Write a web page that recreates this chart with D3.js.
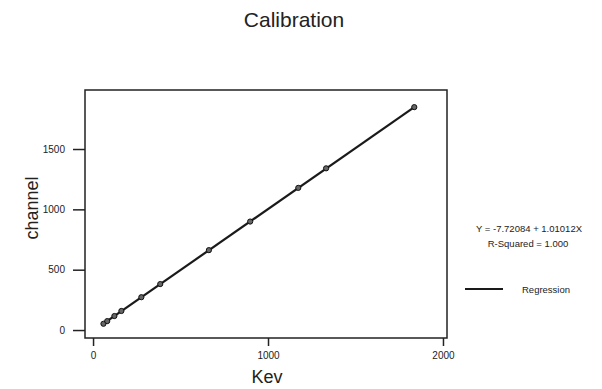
<!DOCTYPE html>
<html lang="en">
<head>
  <meta charset="UTF-8" />
  <title>Calibration</title>
  <style>
  body {
    margin: 0;
    background: #fff;
    font-family: "Liberation Sans", Arial, sans-serif;
  }
  svg {
    display: block;
  }
  .axis text {
    font-size: 10px;
    fill: #222;
  }
  .axis line {
    stroke: #222;
    stroke-width: 1.5;
  }
  </style>
  <script src="https://d3js.org/d3.v7.min.js"></script>
</head>
<body>
  <div id="chart"></div>
  <script>
    // Calibration points (energy in keV, detector channel)
    const kev = [59.5, 81, 122, 162, 276, 384, 662, 898, 1173, 1332, 1836];
    const channel = [52, 74, 116, 158, 272, 381, 662, 899, 1178, 1340, 1847];

    // Fitted regression shown in the legend
    const intercept = -7.72084;
    const slope = 1.01012;
    const rSquared = "1.000";

    const xTicks = [0, 1000, 2000];
    const yTicks = [0, 500, 1000, 1500];
    const xDomain = [-46, 2023];
    const yDomain = [-66, 1989];

    const width = 602;
    const height = 389;
    const box = { left: 85, top: 90, right: 447, bottom: 338 };

    const svg = d3.select("#chart").append("svg")
      .attr("width", width)
      .attr("height", height);

    const x = d3.scaleLinear().domain(xDomain).range([box.left, box.right]);
    const y = d3.scaleLinear().domain(yDomain).range([box.bottom, box.top]);

    // Title
    svg.append("text")
      .attr("x", 294)
      .attr("y", 27)
      .attr("text-anchor", "middle")
      .attr("font-size", 21)
      .attr("fill", "#222")
      .text("Calibration");

    // Frame around the plot area
    svg.append("rect")
      .attr("x", box.left)
      .attr("y", box.top)
      .attr("width", box.right - box.left)
      .attr("height", box.bottom - box.top)
      .attr("fill", "none")
      .attr("stroke", "#222")
      .attr("stroke-width", 1.5);

    // Axes (ticks outside the frame), plain integer labels
    const yAxis = svg.append("g")
      .attr("class", "axis")
      .attr("transform", `translate(${box.left},0)`)
      .call(d3.axisLeft(y).tickValues(yTicks).tickFormat(d3.format("d")).tickSize(12).tickPadding(8));
    yAxis.select(".domain").remove();

    const xAxis = svg.append("g")
      .attr("class", "axis")
      .attr("transform", `translate(0,${box.bottom})`)
      .call(d3.axisBottom(x).tickValues(xTicks).tickFormat(d3.format("d")).tickSize(8).tickPadding(6));
    xAxis.select(".domain").remove();

    // Axis titles
    svg.append("text")
      .attr("x", 267)
      .attr("y", 383)
      .attr("text-anchor", "middle")
      .attr("font-size", 18)
      .attr("fill", "#222")
      .text("Kev");

    svg.append("text")
      .attr("transform", "translate(38,208) rotate(-90)")
      .attr("text-anchor", "middle")
      .attr("font-size", 18)
      .attr("fill", "#222")
      .text("channel");

    // Regression line across the data range
    const ext = d3.extent(kev);
    svg.append("line")
      .attr("x1", x(ext[0]))
      .attr("y1", y(intercept + slope * ext[0]))
      .attr("x2", x(ext[1]))
      .attr("y2", y(intercept + slope * ext[1]))
      .attr("stroke", "#1a1a1a")
      .attr("stroke-width", 2.2);

    // Observed points
    svg.selectAll(".pt")
      .data(d3.zip(kev, channel))
      .enter().append("circle")
      .attr("class", "pt")
      .attr("cx", d => x(d[0]))
      .attr("cy", d => y(d[1]))
      .attr("r", 2.6)
      .attr("fill", "#666")
      .attr("stroke", "#111")
      .attr("stroke-width", 1);

    // Legend
    const legend = svg.append("g").attr("font-size", 9.5).attr("fill", "#222");
    legend.append("text")
      .attr("x", 529)
      .attr("y", 232)
      .attr("text-anchor", "middle")
      .text(`Y = ${intercept} + ${slope}X`);
    legend.append("text")
      .attr("x", 528)
      .attr("y", 247)
      .attr("text-anchor", "middle")
      .text(`R-Squared = ${rSquared}`);
    legend.append("line")
      .attr("x1", 465)
      .attr("x2", 503)
      .attr("y1", 289)
      .attr("y2", 289)
      .attr("stroke", "#1a1a1a")
      .attr("stroke-width", 2.2);
    legend.append("text")
      .attr("x", 522)
      .attr("y", 292.5)
      .text("Regression");
  </script>
</body>
</html>
